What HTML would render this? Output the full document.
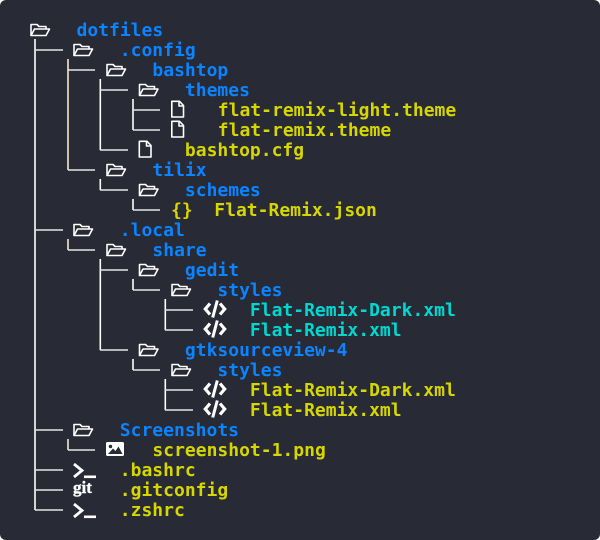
<!DOCTYPE html>
<html><head><meta charset="utf-8"><style>
html,body{margin:0;padding:0;background:#fff}
svg{display:block}
text{font-family:"DejaVu Sans Mono","Liberation Mono",monospace;font-weight:700;font-size:18px}
.b{fill:#0a84ff}.y{fill:#d6d600}.c{fill:#00d8d0}
.l{stroke:#fff;stroke-width:1.6;fill:none}
.o{stroke:#fbe6cc;stroke-width:1.6;fill:none}
.h{stroke:#e4e4e4;stroke-width:1.5;fill:none}
.i{stroke:#fff;stroke-width:1.6;fill:none;stroke-linejoin:round}
</style></head><body>
<svg width="600" height="540" viewBox="0 0 600 540" xmlns="http://www.w3.org/2000/svg">
<defs>
<g id="f" class="i"><path d="M1,12.5V1.5H7L9,3.5H16V6"/><path d="M1,12.5L4.5,6H19.5L16,12.5Z"/></g>
<g id="d" class="i"><path d="M.8,.8H8.5L12.5,5V16.5H.8Z"/><path d="M8,1V5.5H12.5"/></g>
<g id="x"><path d="M6.5,3L1.8,8.5L6.5,14M16.5,3L21.2,8.5L16.5,14" stroke="#fff" stroke-width="3.2" fill="none"/><path d="M13.8,0L9.2,17" stroke="#fff" stroke-width="3" fill="none"/></g>
<g id="t"><path d="M1,1L9,7.5L1,14" stroke="#fff" stroke-width="2.8" fill="none"/><rect x="11" y="12.500" width="12" height="2.600" fill="#fff"/></g>
</defs>
<rect width="600" height="540" rx="6" fill="#282a36"/>

<path class="l" d="M35,39V510M100.300,79V150M133,99V130M100.300,179V190M133,199V210M100.300,259V350M133,279V290M165.300,299V330M133,359V370M165.300,379V410"/>
<path class="o" d="M68,59V170M68,239V250M68,439V450"/>
<path class="h" d="M35,50H63M35,230H63M35,430H63M35,470H63M35,490H63M35,510H63M68,70H95M68,170H95M68,250H95M68,450H95M100,90H128M100,150H128M100,190H128M100,270H128M100,350H128M133,110H160M133,130H160M133,210H160M133,290H160M133,370H160M165,310H193M165,330H193M165,390H193M165,410H193"/>

<use href="#f" x="30" y="23"/><use href="#f" x="73" y="43"/><use href="#f" x="106" y="63"/><use href="#f" x="138.500" y="83"/>
<use href="#d" x="171" y="100.500"/><use href="#d" x="171" y="120.500"/><use href="#d" x="138.500" y="140.500"/>
<use href="#f" x="106" y="163"/><use href="#f" x="138.500" y="183"/>
<use href="#f" x="73" y="223"/><use href="#f" x="106" y="243"/><use href="#f" x="138.500" y="263"/><use href="#f" x="171" y="283"/>
<use href="#x" x="203.500" y="300.500"/><use href="#x" x="203.500" y="320.500"/>
<use href="#f" x="138.500" y="343"/><use href="#f" x="171" y="363"/>
<use href="#x" x="203.500" y="380.500"/><use href="#x" x="203.500" y="400.500"/>
<use href="#f" x="73" y="423"/>
<rect x="106" y="442" width="18" height="14" rx="1.500" fill="#fff"/>
<circle cx="110.500" cy="446.500" r="1.700" fill="#282a36"/>
<path d="M108,454L113,448.500L115.500,451L118.500,446.500L122.500,454Z" fill="#282a36"/>
<use href="#t" x="73" y="463"/>
<use href="#t" x="73" y="503"/>
<text x="73" y="493" style="font-family:'Liberation Serif',serif;font-size:17px;font-weight:700;stroke:#fff;stroke-width:.4" fill="#fff">git</text>

<text x="76.500" y="36" class="b">dotfiles</text>
<text x="119.800" y="56" class="b">.config</text>
<text x="152.400" y="76" class="b">bashtop</text>
<text x="184.900" y="96" class="b">themes</text>
<text x="217.800" y="116" class="y">flat-remix-light.theme</text>
<text x="217.800" y="136" class="y">flat-remix.theme</text>
<text x="184.900" y="156" class="y">bashtop.cfg</text>
<text x="152.400" y="176" class="b">tilix</text>
<text x="184.900" y="196" class="b">schemes</text>
<text x="171" y="216" class="y">{}</text>
<text x="214.300" y="216" class="y">Flat-Remix.json</text>
<text x="119.800" y="236" class="b">.local</text>
<text x="152.400" y="256" class="b">share</text>
<text x="184.900" y="276" class="b">gedit</text>
<text x="217.400" y="296" class="b">styles</text>
<text x="249.900" y="316" class="c">Flat-Remix-Dark.xml</text>
<text x="249.900" y="336" class="c">Flat-Remix.xml</text>
<text x="184.900" y="356" class="b">gtksourceview-4</text>
<text x="217.400" y="376" class="b">styles</text>
<text x="249.900" y="396" class="y">Flat-Remix-Dark.xml</text>
<text x="249.900" y="416" class="y">Flat-Remix.xml</text>
<text x="119.800" y="436" class="b">Screenshots</text>
<text x="152.400" y="456" class="y">screenshot-1.png</text>
<text x="119.800" y="476" class="y">.bashrc</text>
<text x="119.800" y="496" class="y">.gitconfig</text>
<text x="119.800" y="516" class="y">.zshrc</text>
</svg>
</body></html>
